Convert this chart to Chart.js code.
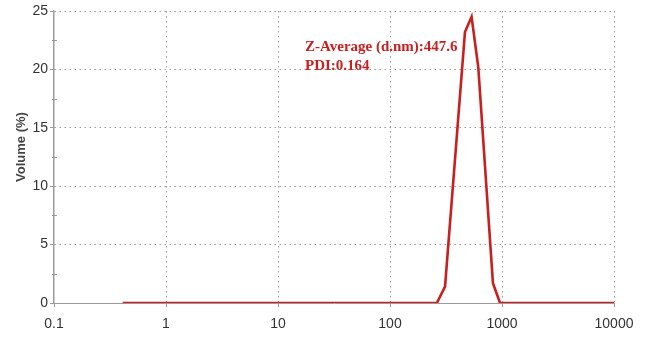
<!DOCTYPE html>
<html>
<head>
<meta charset="utf-8">
<script src="https://cdn.jsdelivr.net/npm/chart.js@4"></script>
<style>
  html, body { margin: 0; padding: 0; background: #fff; }
  #wrap { width: 646px; height: 338px; }
</style>
</head>
<body>
<div id="wrap"><canvas id="c" width="646" height="338"></canvas></div>
<script>
// diâmetro (d.nm) e volume (%)
const sizes  = [0.41, 262, 310, 467, 535, 614, 830, 960, 10000];
const volume = [0,    0,   1.4, 23.2, 24.5, 20.2, 1.7, 0,   0];

const xTicks = [0.1, 1, 10, 100, 1000, 10000];
const yTicks = [0, 5, 10, 15, 20, 25];
const yMinor = [2.5, 7.5, 12.5, 17.5, 22.5];

const yTitle = "Volume (%)";
const notes = ["Z-Average (d.nm):447.6", "PDI:0.164"];

const RED = "#c91f1f";
const AXIS = "#9a9a9a";
const GRID = "#9a9a9a";
const FONT = "'Liberation Sans', Arial, sans-serif";

// minor ticks, título do eixo y + anotação
const extras = {
  id: "extras",
  afterDraw(chart) {
    const { ctx, scales: { y, x } } = chart;
    ctx.save();
    ctx.strokeStyle = AXIS;
    ctx.lineWidth = 1;
    yMinor.forEach(v => {
      const py = Math.round(y.getPixelForValue(v)) + 0.5;
      ctx.beginPath();
      ctx.moveTo(x.left - 2, py);
      ctx.lineTo(x.left + 3, py);
      ctx.stroke();
    });

    ctx.save();
    ctx.translate(21, 147);
    ctx.rotate(-Math.PI / 2);
    ctx.fillStyle = "#444";
    ctx.font = "bold 13px " + FONT;
    ctx.textAlign = "center";
    ctx.textBaseline = "middle";
    ctx.fillText(yTitle, 0, 0);
    ctx.restore();

    ctx.fillStyle = RED;
    ctx.font = "bold 15px 'Liberation Serif', 'Times New Roman', serif";
    ctx.textBaseline = "alphabetic";
    ctx.fillText(notes[0], 305, 51);
    ctx.fillText(notes[1], 305, 70);
    ctx.restore();
  }
};

new Chart(document.getElementById("c"), {
  type: "scatter",
  data: {
    datasets: [{
      data: sizes.map((s, i) => ({ x: s, y: volume[i] })),
      showLine: true,
      borderColor: RED,
      borderWidth: 2.6,
      pointRadius: 0,
      tension: 0
    }]
  },
  options: {
    responsive: false,
    animation: false,
    layout: { padding: { top: 11, right: 32, left: 0, bottom: 0 } },
    plugins: { legend: { display: false }, tooltip: { enabled: false } },
    scales: {
      x: {
        type: "logarithmic",
        min: 0.1, max: 10000,
        afterBuildTicks: (s) => { s.ticks = xTicks.map(v => ({ value: v })); },
        afterFit: (s) => { s.height = 35; },
        ticks: {
          callback: (v) => String(v),
          color: "#333",
          font: { family: FONT, size: 14 },
          padding: 9,
          maxRotation: 0,
          autoSkip: false
        },
        grid: {
          color: (c) => c.index === 0 ? "transparent" : GRID,
          tickColor: AXIS,
          tickLength: 4,
          tickBorderDash: [],
          lineWidth: 1
        },
        border: { display: true, color: AXIS, width: 1, dash: [1.5, 3.5] }
      },
      y: {
        min: 0, max: 25,
        afterBuildTicks: (s) => { s.ticks = yTicks.map(v => ({ value: v })); },
        afterFit: (s) => { s.width = 54; },
        ticks: {
          color: "#333",
          font: { family: FONT, size: 14 },
          padding: 2
        },
        grid: {
          color: (c) => c.index === 0 ? "transparent" : GRID,
          tickColor: AXIS,
          tickLength: 4,
          tickBorderDash: [],
          lineWidth: 1
        },
        border: { display: true, color: AXIS, width: 1.5, dash: [1.5, 3.5] }
      }
    }
  },
  plugins: [extras]
});
</script>
</body>
</html>
